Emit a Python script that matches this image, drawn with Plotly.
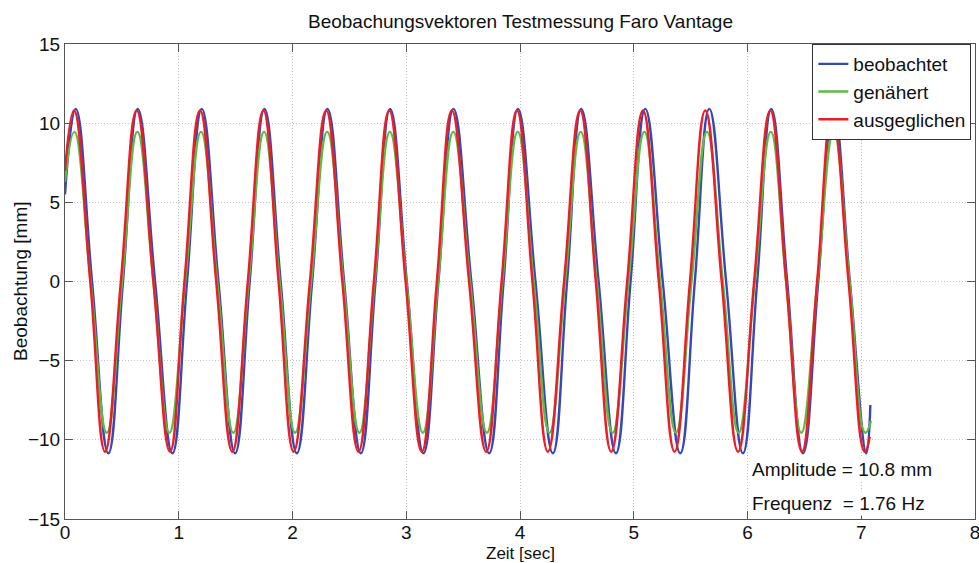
import plotly.graph_objects as go

# ---- data (time in s, value in mm) ----
t_beob = [0.000, 0.094, 0.238, 0.381, 0.510, 0.639, 0.792, 0.944, 1.073, 1.202,
          1.349, 1.495, 1.624, 1.753, 1.896, 2.038, 2.173, 2.307, 2.454, 2.601,
          2.730, 2.858, 3.005, 3.151, 3.283, 3.415, 3.572, 3.729, 3.856, 3.982,
          4.136, 4.289, 4.414, 4.538, 4.691, 4.843, 4.972, 5.101, 5.255, 5.409,
          5.537, 5.664, 5.812, 5.960, 6.085, 6.209, 6.349, 6.488, 6.622, 6.755,
          6.900, 7.045, 7.080]
y_beob = [5.5,
          10.9, 0, -10.85, 0, 10.9, 0, -10.85, 0, 10.9, 0, -10.85, 0,
          10.9, 0, -10.85, 0, 10.9, 0, -10.85, 0, 10.9, 0, -10.85, 0,
          10.9, 0, -10.85, 0, 10.9, 0, -10.85, 0, 10.9, 0, -10.85, 0,
          10.9, 0, -10.85, 0, 10.9, 0, -10.85, 0, 10.9, 0, -10.85, 0,
          10.9, 0, -10.85, -7.8]

t_gen = [0.000, 0.082, 0.225, 0.367, 0.502, 0.636, 0.777, 0.917, 1.057, 1.196,
         1.338, 1.480, 1.615, 1.750, 1.887, 2.023, 2.164, 2.305, 2.447, 2.588,
         2.722, 2.856, 3.001, 3.146, 3.280, 3.413, 3.561, 3.709, 3.845, 3.980,
         4.120, 4.259, 4.397, 4.534, 4.674, 4.814, 4.954, 5.093, 5.232, 5.371,
         5.508, 5.644, 5.783, 5.922, 6.064, 6.205, 6.339, 6.473, 6.615, 6.757,
         6.897, 7.036, 7.085]
y_gen = [6.3,
         9.45, 0, -9.55, 0, 9.45, 0, -9.55, 0, 9.45, 0, -9.55, 0,
         9.45, 0, -9.55, 0, 9.45, 0, -9.55, 0, 9.45, 0, -9.55, 0,
         9.45, 0, -9.55, 0, 9.45, 0, -9.55, 0, 9.45, 0, -9.55, 0,
         9.45, 0, -9.55, 0, 9.45, 0, -9.55, 0, 9.45, 0, -9.55, 0,
         9.45, 0, -9.55, -8.8]

t_ausg = [0.000, 0.079, 0.222, 0.352, 0.491, 0.630, 0.777, 0.923, 1.050, 1.187,
          1.329, 1.471, 1.607, 1.744, 1.877, 2.010, 2.153, 2.296, 2.438, 2.580,
          2.715, 2.850, 2.994, 3.137, 3.269, 3.401, 3.552, 3.703, 3.838, 3.973,
          4.109, 4.245, 4.387, 4.529, 4.666, 4.802, 4.942, 5.081, 5.220, 5.359,
          5.494, 5.629, 5.773, 5.917, 6.058, 6.200, 6.340, 6.479, 6.612, 6.745,
          6.888, 7.030, 7.075]
y_ausg = [7.0,
          10.8, 0, -10.75, 0, 10.8, 0, -10.75, 0, 10.8, 0, -10.75, 0,
          10.8, 0, -10.75, 0, 10.8, 0, -10.75, 0, 10.8, 0, -10.75, 0,
          10.8, 0, -10.75, 0, 10.8, 0, -10.75, 0, 10.8, 0, -10.75, 0,
          10.8, 0, -10.75, 0, 10.8, 0, -10.75, 0, 10.8, 0, -10.75, 0,
          10.8, 0, -10.75, -9.8]

series_names = ["beobachtet", "genähert", "ausgeglichen"]
x_ticks = [0, 1, 2, 3, 4, 5, 6, 7, 8]
y_ticks = [-15, -10, -5, 0, 5, 10, 15]
info_lines = ["Amplitude = 10.8 mm", "Frequenz\u00a0 = 1.76 Hz"]

FONT = "Liberation Sans, Arial, sans-serif"
colors = ["#3648b6", "#5cbb45", "#ee1d25"]

fig = go.Figure()
for name, t, y, c in zip(series_names, [t_beob, t_gen, t_ausg],
                         [y_beob, y_gen, y_ausg], colors):
    fig.add_trace(go.Scatter(x=t, y=y, mode="lines", name=name,
                             line=dict(color=c, width=2.4, shape="spline",
                                       smoothing=1.3)))

axis_common = dict(showline=True, linecolor="#555", linewidth=1,
                   mirror="ticks", ticks="inside", ticklen=8, tickcolor="#555",
                   showgrid=True, gridcolor="#c4c4c4", griddash="1px,2px",
                   gridwidth=1, zeroline=False, ticklabeloverflow="allow",
                   automargin=False,
                   tickfont=dict(family=FONT, size=19, color="#111"))

fig.update_layout(
    width=979, height=563,
    margin=dict(l=65, r=4, t=44, b=44),
    paper_bgcolor="white", plot_bgcolor="white",
    showlegend=True,
    legend=dict(x=0.996, y=1.0, xanchor="right", yanchor="top",
                bgcolor="white", bordercolor="#333", borderwidth=1,
                font=dict(family=FONT, size=19, color="#111"),
                itemwidth=30, tracegroupgap=0),
    xaxis=dict(range=[0, 8], tickvals=x_ticks, ticklabelstandoff=-4,
               **axis_common),
    yaxis=dict(range=[-15, 15], tickvals=y_ticks, **axis_common),
)

fig.add_annotation(text="Beobachungsvektoren Testmessung Faro Vantage",
                   xref="paper", yref="paper", x=0.5, y=(519 - 22) / 475,
                   showarrow=False, xanchor="center", yanchor="middle",
                   font=dict(family=FONT, size=19, color="#111"))
fig.add_annotation(text="Zeit [sec]", xref="paper", yref="paper",
                   x=0.5, y=(519 - 553) / 475, showarrow=False,
                   xanchor="center", yanchor="middle",
                   font=dict(family=FONT, size=17, color="#111"))
fig.add_annotation(text="Beobachtung [mm]", xref="paper", yref="paper",
                   x=(20 - 65) / 909.6, y=(519 - 281) / 475, textangle=-90,
                   showarrow=False, xanchor="center", yanchor="middle",
                   font=dict(family=FONT, size=19, color="#111"))
for i, line in enumerate(info_lines):
    fig.add_annotation(text=line, xref="x", yref="y", x=6.025,
                       y=[-11.9, -14.05][i], showarrow=False,
                       xanchor="left", yanchor="middle", bgcolor="white",
                       font=dict(family=FONT, size=19, color="#111"))

fig.write_html("out.html")
